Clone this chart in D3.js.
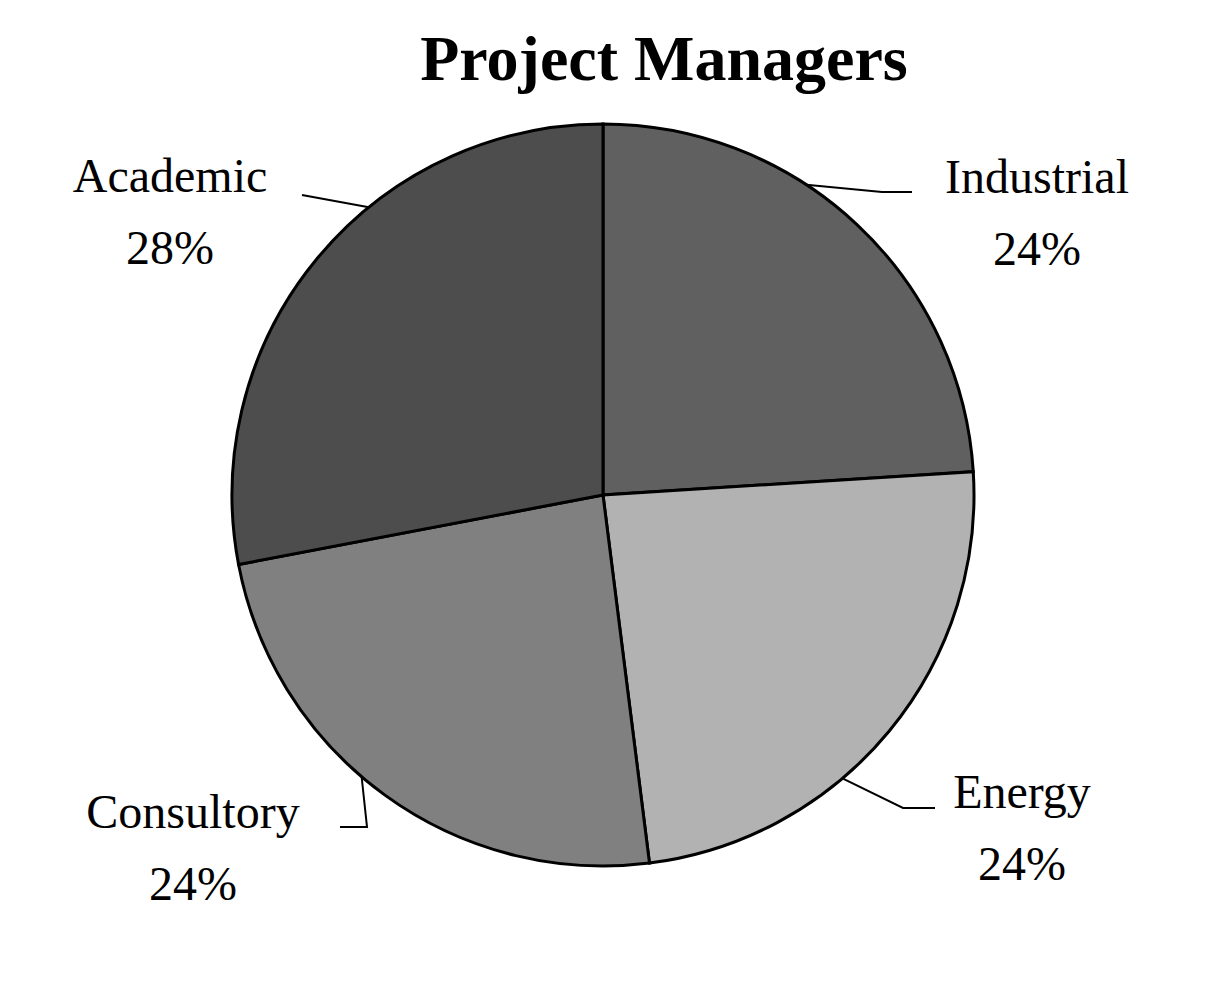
<!DOCTYPE html>
<html><head><meta charset="utf-8">
<script src="https://cdn.jsdelivr.net/npm/d3@7"></script>
<style>body{margin:0;background:#fff}</style>
</head><body><div id="vis"></div>
<script>
// data
var categories = ["Industrial", "Energy", "Consultory", "Academic"];
var shares = [24, 24, 24, 28];
var colors = ["#606060", "#b2b2b2", "#808080", "#4d4d4d"];

// label layout: [text x, text y, elbow x, elbow y, end x]
var labelPos = [
  {tx: 1037, ty: 193, ex: 882, ey: 192, lx: 912, angle: 0.58},
  {tx: 1022, ty: 808, ex: 903, ey: 808, lx: 935, angle: 2.44},
  {tx: 193, ty: 828, ex: 367, ey: 827, lx: 340, angle: 3.85},
  {tx: 170, ty: 192, ex: 302, ey: 195, lx: 302, angle: 5.6}
];

var width = 1227, height = 985, cx = 603, cy = 495, r = 371;
var font = "'Liberation Serif', 'DejaVu Serif', serif";

var svg = d3.select("#vis").append("svg")
  .attr("width", width).attr("height", height);

svg.append("text").attr("x", 664).attr("y", 80)
  .attr("text-anchor", "middle")
  .style("font-family", font).style("font-weight", "bold").style("font-size", "64px")
  .text("Project Managers");

var data = categories.map(function(c, i){ return {name: c, value: shares[i], color: colors[i]}; });
var pie = d3.pie().sort(null).value(function(d){ return d.value; });
var arc = d3.arc().innerRadius(0).outerRadius(r);

var g = svg.append("g").attr("transform", "translate(" + cx + "," + cy + ")");
g.selectAll("path").data(pie(data)).enter().append("path")
  .attr("d", arc)
  .attr("fill", function(d){ return d.data.color; })
  .attr("stroke", "#000").attr("stroke-width", 3);

// leader lines and labels
data.forEach(function(d, i){
  var p = labelPos[i];
  var sx = cx + Math.sin(p.angle) * r, sy = cy - Math.cos(p.angle) * r;
  svg.append("polyline")
    .attr("points", [[sx, sy], [p.ex, p.ey], [p.lx, p.ey]].map(function(q){ return q.join(","); }).join(" "))
    .attr("fill", "none").attr("stroke", "#000").attr("stroke-width", 2);
  svg.append("text").attr("x", p.tx).attr("y", p.ty)
    .attr("text-anchor", "middle")
    .style("font-family", font).style("font-size", "48px")
    .text(d.name);
  svg.append("text").attr("x", p.tx).attr("y", p.ty + 72)
    .attr("text-anchor", "middle")
    .style("font-family", font).style("font-size", "48px")
    .text(d.value + "%");
});
</script>
</body></html>
